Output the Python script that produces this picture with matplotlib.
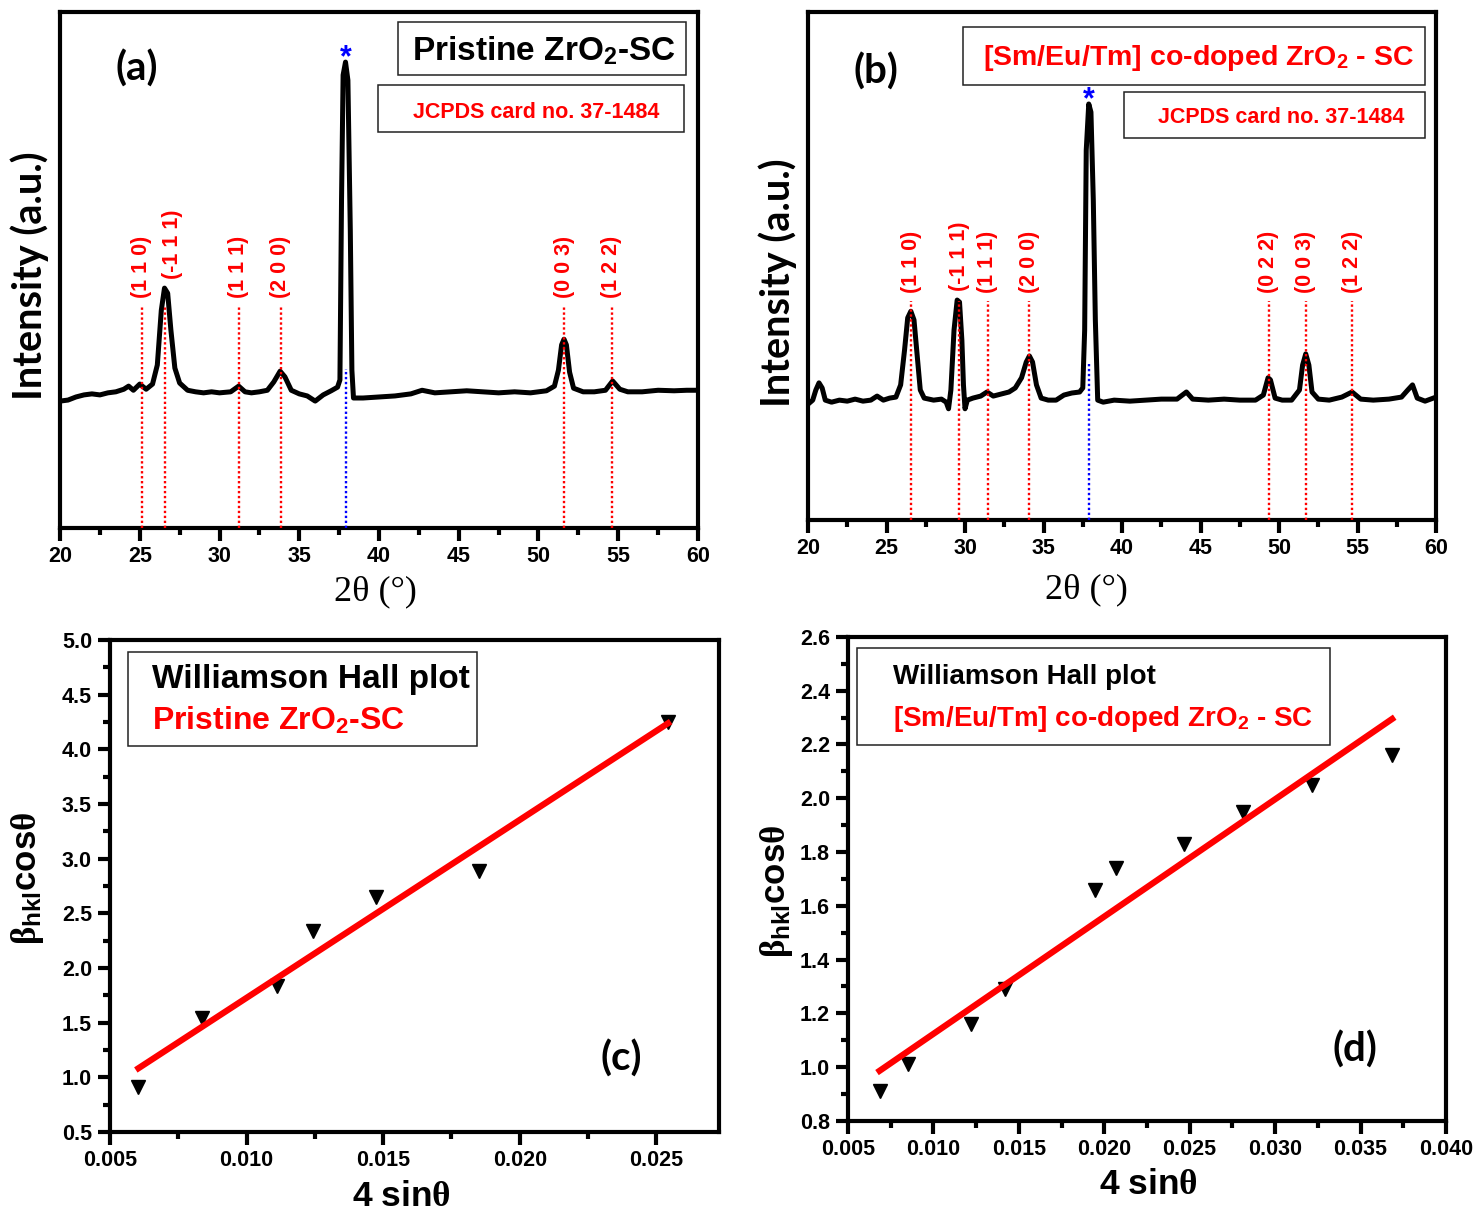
"""XRD patterns and Williamson-Hall plots for pristine and Sm/Eu/Tm co-doped ZrO2-SC."""
import numpy as np
import matplotlib
matplotlib.use("Agg")
import matplotlib.pyplot as plt
from matplotlib.patches import Rectangle
from matplotlib.ticker import MultipleLocator, FormatStrFormatter

plt.rcParams.update({
    "font.family": ["Liberation Sans", "DejaVu Sans"],
    "font.weight": "bold",
    "mathtext.fontset": "custom",
    "mathtext.rm": "Liberation Serif",
    "mathtext.it": "Liberation Serif:italic",
    "mathtext.bf": "Liberation Sans:bold",
    "axes.linewidth": 3,
})

# ── XRD, pristine ZrO2-SC (2θ in degrees, intensity in a.u.) ──
TT_A = [20.0, 20.5, 21.0, 21.5, 22.0, 22.5, 23.0, 23.5, 24.0, 24.3, 24.6, 25.0,
        25.4, 25.8, 26.1, 26.35, 26.55, 26.75, 26.95, 27.2, 27.5, 28.0, 28.5,
        29.0, 29.5, 30.0, 30.7, 31.2, 31.6, 32.0, 32.5, 33.0, 33.4, 33.8, 34.1,
        34.5, 35.0, 35.5, 36.0, 36.5, 37.0, 37.4, 37.55, 37.65, 37.75, 37.9,
        38.05, 38.2, 38.3, 38.4, 39.0, 40.0, 41.0, 42.0, 42.7, 43.5, 44.5, 45.5,
        46.5, 47.5, 48.5, 49.5, 50.5, 51.0, 51.25, 51.45, 51.6, 51.75, 51.95,
        52.2, 52.8, 53.5, 54.2, 54.65, 55.1, 55.6, 56.5, 57.5, 58.5, 59.3, 60.0]
I_A = [246, 248, 254, 258, 260, 258, 262, 264, 269, 275, 267, 279,
       269, 279, 316, 422, 465, 455, 384, 310, 281, 267, 264,
       262, 264, 262, 264, 275, 264, 262, 264, 267, 283, 304, 293,
       267, 260, 256, 246, 258, 266, 273, 287, 636, 878, 903,
       868, 578, 306, 252, 252, 254, 256, 260, 267, 262, 264, 266,
       264, 262, 264, 262, 266, 275, 306, 355, 366, 355, 302,
       271, 264, 264, 267, 285, 269, 264, 264, 267, 266, 267, 267]
HKL_A = ["(1 1 0)", "(-1 1 1)", "(1 1 1)", "(2 0 0)", "(0 0 3)", "(1 2 2)"]
POS_A = [25.12, 26.58, 31.2, 33.85, 51.6, 54.6]
STAR_A = 37.92

# ── XRD, [Sm/Eu/Tm] co-doped ZrO2-SC ──
TT_B = [20.0, 20.3, 20.5, 20.7, 20.9, 21.1, 21.5, 22.0, 22.5, 23.0, 23.5, 24.0,
        24.4, 24.8, 25.2, 25.6, 25.9, 26.15, 26.35, 26.55, 26.75, 26.95, 27.15,
        27.4, 28.0, 28.5, 28.8, 28.95, 29.1, 29.3, 29.5, 29.65, 29.8, 29.9,
        30.0, 30.15, 30.5, 31.0, 31.4, 31.8, 32.3, 32.8, 33.2, 33.6, 33.9, 34.1,
        34.3, 34.55, 34.85, 35.3, 35.8, 36.3, 36.8, 37.3, 37.5, 37.62, 37.72,
        37.88, 38.02, 38.17, 38.3, 38.45, 38.8, 39.5, 40.5, 41.5, 42.5, 43.5,
        44.1, 44.5, 45.5, 46.5, 47.5, 48.5, 49.0, 49.3, 49.45, 49.75, 50.2,
        50.8, 51.3, 51.5, 51.7, 51.9, 52.1, 52.5, 53.2, 54.0, 54.65, 55.2, 56.0,
        57.0, 57.8, 58.2, 58.5, 58.8, 59.3, 60.0]
I_B = [228, 236, 256, 270, 260, 236, 232, 236, 234, 238, 234, 236,
       244, 236, 240, 242, 266, 335, 398, 411, 394, 325, 256,
       240, 236, 238, 232, 219, 256, 374, 433, 429, 354, 266,
       219, 236, 240, 244, 252, 244, 248, 252, 260, 280, 311, 323,
       311, 266, 240, 236, 236, 246, 250, 252, 260, 374, 728,
       819, 803, 630, 394, 236, 232, 236, 234, 236, 238, 238,
       252, 238, 236, 238, 236, 236, 246, 280, 276, 240, 236,
       236, 256, 305, 327, 305, 252, 238, 236, 242, 252, 238, 236,
       238, 242, 256, 266, 240, 234, 242]
HKL_B = ["(1 1 0)", "(-1 1 1)", "(1 1 1)", "(2 0 0)", "(0 2 2)", "(0 0 3)", "(1 2 2)"]
POS_B = [26.56, 29.62, 31.46, 34.1, 49.35, 51.7, 54.65]
STAR_B = 37.9

# ── Williamson-Hall data: 4 sinθ vs β_hkl cosθ ──
X_C = [0.00604, 0.00835, 0.0111, 0.01242, 0.01473, 0.01852, 0.02543]
Y_C = [0.91, 1.54, 1.84, 2.34, 2.65, 2.89, 4.25]
X_D = [0.00685, 0.0085, 0.01221, 0.01419, 0.01944, 0.02066, 0.02468,
       0.02814, 0.03214, 0.03685]
Y_D = [0.91, 1.01, 1.16, 1.29, 1.66, 1.74, 1.83, 1.95, 2.05, 2.16]

TITLE_A = r"Pristine ZrO$_\mathbf{2}$-SC"
TITLE_B = r"[Sm/Eu/Tm] co-doped ZrO$_\mathbf{2}$ - SC"
JCPDS = "JCPDS card no. 37-1484"
WH_XLABEL = r"$\mathbf{4\ sin}\mathrm{\theta}$"
WH_YLABEL = r"$\mathrm{\beta}_{\mathbf{hkl}}\mathbf{cos}\mathrm{\theta}$"
LINE_TOP = 432
STAR_TOP = 308
TICK_SIZE = 15.5


def _box(ax, x0, y0, x1, y1):
    ax.add_patch(Rectangle((x0, y0), x1 - x0, y1 - y0, transform=ax.transAxes,
                           facecolor="white", edgecolor="#222222", lw=1.1, zorder=5))


def _ticks(ax):
    ax.tick_params(which="major", direction="out", length=9, width=3,
                   labelsize=TICK_SIZE, pad=4)
    ax.tick_params(which="minor", direction="out", length=5, width=3)


def plot_xrd(ax, tt, inten, hkl, pos, star, shift=None):
    shift = shift or {}
    tt = np.asarray(tt)
    inten = np.asarray(inten)
    ax.plot(tt, inten, color="black", lw=3.6, solid_joinstyle="round", zorder=2)
    # 标定峰位：红色虚线 + 竖排晶面指数
    for h, p in zip(hkl, pos):
        ax.vlines(p, 0, LINE_TOP, colors="red", linestyles=(0, (1, 1.1)), lw=1.7, zorder=3)
        near = inten[np.abs(tt - p) < 0.35]
        y = max(LINE_TOP + 14, near.max() + 18)
        ax.text(p + shift.get(h, 0), y, h, rotation=90, ha="center", va="bottom",
                color="red", fontsize=15.5, fontweight="bold")
    ax.vlines(star, 0, STAR_TOP, colors="blue", linestyles=(0, (1, 1.1)), lw=1.7, zorder=3)
    top = inten[np.abs(tt - star) < 0.3].max()
    ax.text(star, top - 8, "*", color="blue", fontsize=22, fontweight="bold",
            ha="center", va="baseline", zorder=6)
    ax.set_xlim(20, 60)
    ax.set_ylim(0, 1000)
    ax.xaxis.set_major_locator(MultipleLocator(5))
    ax.xaxis.set_minor_locator(MultipleLocator(2.5))
    _ticks(ax)
    ax.tick_params(axis="y", which="both", left=False, labelleft=False)


def plot_wh(ax, x, y):
    ax.plot(x, y, "v", color="black", ms=10, zorder=2, clip_on=False)
    coef = np.polyfit(x, y, 1)
    xs = np.array([min(x), max(x)])
    ax.plot(xs, np.polyval(coef, xs), color="red", lw=4.5, zorder=3)
    ax.xaxis.set_major_formatter(FormatStrFormatter("%.3f"))
    ax.yaxis.set_major_formatter(FormatStrFormatter("%.1f"))


fig = plt.figure(figsize=(14.75, 12.15), dpi=100)
ax_a = fig.add_axes([0.0407, 0.5654, 0.4325, 0.4247])
ax_b = fig.add_axes([0.5478, 0.5720, 0.4258, 0.4181])
ax_c = fig.add_axes([0.0746, 0.0683, 0.4129, 0.4049])
ax_d = fig.add_axes([0.5749, 0.0774, 0.4054, 0.3984])

# (a)
plot_xrd(ax_a, TT_A, I_A, HKL_A, POS_A, STAR_A, shift={"(-1 1 1)": 0.45})
_box(ax_a, 0.530, 0.878, 0.981, 0.981)
ax_a.text(0.758, 0.907, TITLE_A, transform=ax_a.transAxes, ha="center", va="baseline",
          fontsize=24, fontweight="bold", color="black", zorder=6)
_box(ax_a, 0.498, 0.767, 0.978, 0.859)
ax_a.text(0.746, 0.795, JCPDS, transform=ax_a.transAxes, ha="center", va="baseline",
          fontsize=15.5, fontweight="bold", color="red", zorder=6)
ax_a.text(0.121, 0.89, "(a)", transform=ax_a.transAxes, ha="center", va="center",
          fontsize=29, fontweight="bold", family="Lato")
ax_a.text(0.494, -0.124, "2θ (°)", transform=ax_a.transAxes, ha="center", va="center",
          fontsize=26, fontweight="normal", family="Liberation Serif")
ax_a.text(-0.047, 0.49, "Intensity (a.u.)", transform=ax_a.transAxes, rotation=90,
          ha="center", va="center", fontsize=28.5, fontweight="bold", family="Lato")

# (b)
plot_xrd(ax_b, TT_B, I_B, HKL_B, POS_B, STAR_B)
_box(ax_b, 0.247, 0.856, 0.982, 0.970)
ax_b.text(0.622, 0.896, TITLE_B, transform=ax_b.transAxes, ha="center", va="baseline",
          fontsize=20.5, fontweight="bold", color="red", zorder=6)
_box(ax_b, 0.503, 0.752, 0.982, 0.843)
ax_b.text(0.753, 0.781, JCPDS, transform=ax_b.transAxes, ha="center", va="baseline",
          fontsize=15.5, fontweight="bold", color="red", zorder=6)
ax_b.text(0.108, 0.882, "(b)", transform=ax_b.transAxes, ha="center", va="center",
          fontsize=29, fontweight="bold", family="Lato")
ax_b.text(0.444, -0.138, "2θ (°)", transform=ax_b.transAxes, ha="center", va="center",
          fontsize=26, fontweight="normal", family="Liberation Serif")
ax_b.text(-0.048, 0.468, "Intensity (a.u.)", transform=ax_b.transAxes, rotation=90,
          ha="center", va="center", fontsize=28.5, fontweight="bold", family="Lato")

# (c)
plot_wh(ax_c, X_C, Y_C)
ax_c.set_xlim(0.005, 0.0273)
ax_c.set_ylim(0.5, 5.0)
ax_c.xaxis.set_major_locator(MultipleLocator(0.005))
ax_c.xaxis.set_minor_locator(MultipleLocator(0.0025))
ax_c.yaxis.set_major_locator(MultipleLocator(0.5))
ax_c.yaxis.set_minor_locator(MultipleLocator(0.25))
_ticks(ax_c)
_box(ax_c, 0.0296, 0.785, 0.603, 0.976)
ax_c.text(0.069, 0.902, "Williamson Hall plot", transform=ax_c.transAxes,
          ha="left", va="baseline", fontsize=24, fontweight="bold", zorder=6)
ax_c.text(0.069, 0.819, TITLE_A, transform=ax_c.transAxes, ha="left", va="baseline",
          fontsize=23, fontweight="bold", color="red", zorder=6)
ax_c.text(0.84, 0.150, "(c)", transform=ax_c.transAxes, ha="center", va="center",
          fontsize=29, fontweight="bold", family="Lato")
ax_c.text(0.479, -0.132, WH_XLABEL, transform=ax_c.transAxes,
          ha="center", va="center", fontsize=25.5)
ax_c.text(-0.135, 0.516, WH_YLABEL, transform=ax_c.transAxes, rotation=90,
          ha="center", va="center", fontsize=25)

# (d)
plot_wh(ax_d, X_D, Y_D)
ax_d.set_xlim(0.005, 0.040)
ax_d.set_ylim(0.8, 2.6)
ax_d.xaxis.set_major_locator(MultipleLocator(0.005))
ax_d.xaxis.set_minor_locator(MultipleLocator(0.0025))
ax_d.yaxis.set_major_locator(MultipleLocator(0.2))
ax_d.yaxis.set_minor_locator(MultipleLocator(0.1))
_ticks(ax_d)
_box(ax_d, 0.015, 0.777, 0.806, 0.977)
ax_d.text(0.075, 0.903, "Williamson Hall plot", transform=ax_d.transAxes,
          ha="left", va="baseline", fontsize=20, fontweight="bold", zorder=6)
ax_d.text(0.075, 0.816, TITLE_B, transform=ax_d.transAxes, ha="left", va="baseline",
          fontsize=20, fontweight="bold", color="red", zorder=6)
ax_d.text(0.848, 0.147, "(d)", transform=ax_d.transAxes, ha="center", va="center",
          fontsize=29, fontweight="bold", family="Lato")
ax_d.text(0.502, -0.132, WH_XLABEL, transform=ax_d.transAxes,
          ha="center", va="center", fontsize=25.5)
ax_d.text(-0.12, 0.475, WH_YLABEL, transform=ax_d.transAxes, rotation=90,
          ha="center", va="center", fontsize=25)

fig.savefig("out.png", dpi=100, facecolor="white")
plt.close(fig)
